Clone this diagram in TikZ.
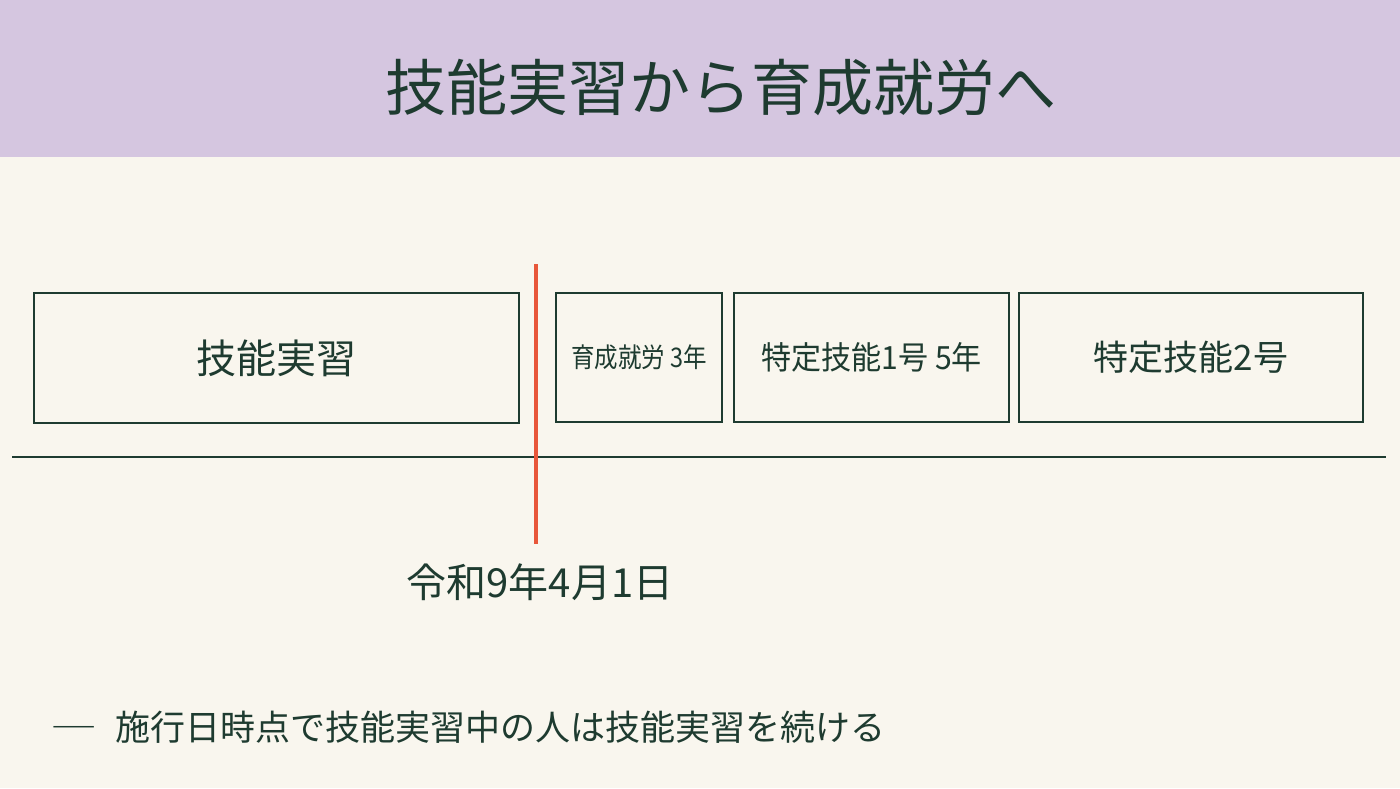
\documentclass[tikz,border=0pt]{standalone}
\usepackage{fontspec}
\setmainfont{Noto Sans CJK JP}
\newfontfamily\jp{Noto Sans CJK JP}
\definecolor{bgcream}{HTML}{F9F6EE}
\definecolor{band}{HTML}{D5C6E0}
\definecolor{ink}{HTML}{1E3B30}
\definecolor{cut}{HTML}{E8573A}
\begin{document}
\begin{tikzpicture}[x=1pt,y=-1pt,
  stagebox/.style={draw=ink,line width=1.8pt,inner sep=0pt,text=ink,align=center},
  lbl/.style={text=ink,inner sep=0pt}]
\useasboundingbox (0,0) rectangle (1400,788);
\fill[bgcream] (0,0) rectangle (1400,788);
\fill[band] (0,0) rectangle (1400,157);
\node[lbl] (title) at (721,87) {\jp\fontsize{61}{61}\selectfont 技能実習から育成就労へ};
\node[stagebox,minimum width=485,minimum height=130] (ti) at (276.5,358) {\jp\fontsize{40}{40}\selectfont 技能実習};
\node[stagebox,minimum width=166,minimum height=129] (ik) at (639,357.5) {\jp\fontsize{27}{27}\selectfont\scalebox{0.87}[1]{育成就労 3年}};
\node[stagebox,minimum width=275,minimum height=129] (t1) at (871.5,357.5) {\jp\fontsize{32}{32}\selectfont\scalebox{0.94}[1]{特定技能1号 5年}};
\node[stagebox,minimum width=344,minimum height=129] (t2) at (1191,357.5) {\jp\fontsize{35}{35}\selectfont 特定技能2号};
\coordinate (tlL) at (12,457);
\coordinate (tlR) at (1386,457);
\draw[ink,line width=2.8pt] (tlL) -- (tlR);
\coordinate (cutT) at (536,264);
\coordinate (cutB) at (536,544);
\draw[cut,line width=4.5pt] (cutT) -- (cutB);
\node[lbl] (date) at (540,582) {\jp\fontsize{40}{40}\selectfont 令和9年4月1日};
\node[lbl,anchor=west] (note) at (50,727) {\jp\fontsize{35}{35}\selectfont \scalebox{1.35}[1]{―}\hspace{18pt}施行日時点で技能実習中の人は技能実習を続ける};
\end{tikzpicture}
\end{document}
